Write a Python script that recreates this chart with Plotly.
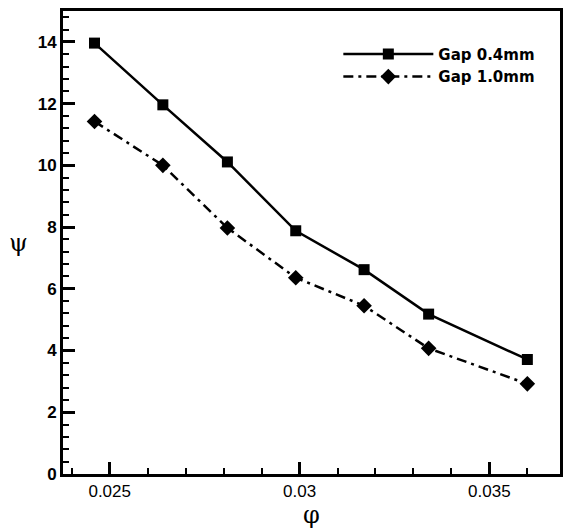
import plotly.graph_objects as go

phi = [0.0246, 0.0264, 0.0281, 0.0299, 0.0317, 0.0334, 0.0360]
psi_gap04 = [13.96, 11.96, 10.11, 7.88, 6.62, 5.18, 3.71]
psi_gap10 = [11.42, 10.00, 7.97, 6.36, 5.45, 4.07, 2.92]
names = ["Gap 0.4mm", "Gap 1.0mm"]
x_ticks = [0.025, 0.03, 0.035]
x_tick_text = ["0.025", "0.03", "0.035"]

fig = go.Figure()
fig.add_trace(go.Scatter(
    x=phi, y=psi_gap04, name=names[0], mode="lines+markers",
    line=dict(color="black", width=2.5),
    marker=dict(symbol="square", size=11, color="black"),
))
fig.add_trace(go.Scatter(
    x=phi, y=psi_gap10, name=names[1], mode="lines+markers",
    line=dict(color="black", width=2.5, dash="10px,5px,3px,5px"),
    marker=dict(symbol="diamond", size=12, color="black"),
))

fig.update_layout(
    width=566, height=529,
    margin=dict(l=63, r=3, t=11, b=52),
    paper_bgcolor="white", plot_bgcolor="white",
    showlegend=True,
    legend=dict(
        x=0.554, y=0.942, xanchor="left", yanchor="top",
        bgcolor="rgba(0,0,0,0)", borderwidth=0,
        font=dict(family="DejaVu Sans", size=15, color="black", weight="bold"),
        itemwidth=90, tracegroupgap=0,
    ),
    xaxis=dict(
        range=[0.02377, 0.03686],
        tickvals=x_ticks, ticktext=x_tick_text,
        ticks="inside", ticklen=12, tickwidth=2.5, tickcolor="black",
        minor=dict(dtick=0.001, tick0=0, ticks="inside", ticklen=6, tickwidth=1.5, tickcolor="black"),
        showline=True, linewidth=3, linecolor="black", mirror=True,
        showgrid=False, zeroline=False,
        tickfont=dict(family="Liberation Sans", size=17, color="black"),
        title=dict(text="φ", font=dict(family="DejaVu Serif", size=24, color="black"), standoff=8),
    ),
    yaxis=dict(
        range=[0, 15],
        dtick=2, tick0=0,
        ticks="inside", ticklen=12, tickwidth=2.5, tickcolor="black",
        minor=dict(dtick=0.4, tick0=0, ticks="inside", ticklen=6, tickwidth=1.5, tickcolor="black"),
        showline=True, linewidth=3, linecolor="black", mirror=True,
        showgrid=False, zeroline=False,
        tickfont=dict(family="Liberation Sans", size=17, color="black", weight="bold"),
    ),
    annotations=[dict(
        text="ψ", xref="paper", yref="paper", x=-0.09, y=0.50,
        xanchor="center", yanchor="middle", showarrow=False,
        font=dict(family="DejaVu Serif", size=24, color="black"),
    )],
)

fig.write_html(
    "out.html",
    config={"displayModeBar": False},
    post_script="document.body.style.margin='0';document.body.style.overflow='hidden';",
)
